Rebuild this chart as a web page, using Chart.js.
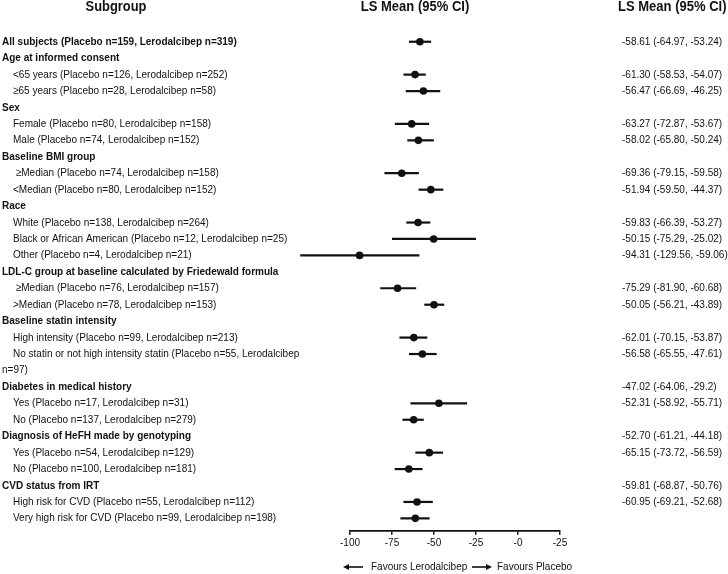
<!DOCTYPE html>
<html>
<head>
<meta charset="utf-8">
<script src="https://cdn.jsdelivr.net/npm/chart.js@4"></script>
<style>
    html, body { margin: 0; padding: 0; background: #fff; }
    canvas { display: block; }
</style>
</head>
<body>
<canvas id="forestChart" width="728" height="574"></canvas>
<script>
// rows of the table, top to bottom (row index = position on the y scale)
const subgroupLabels = [
    'All subjects (Placebo n=159, Lerodalcibep n=319)',
    'Age at informed consent',
    '<65 years (Placebo n=126, Lerodalcibep n=252)',
    '≥65 years (Placebo n=28, Lerodalcibep n=58)',
    'Sex',
    'Female (Placebo n=80, Lerodalcibep n=158)',
    'Male (Placebo n=74, Lerodalcibep n=152)',
    'Baseline BMI group',
    ' ≥Median (Placebo n=74, Lerodalcibep n=158)',
    '<Median (Placebo n=80, Lerodalcibep n=152)',
    'Race',
    'White (Placebo n=138, Lerodalcibep n=264)',
    'Black or African American (Placebo n=12, Lerodalcibep n=25)',
    'Other (Placebo n=4, Lerodalcibep n=21)',
    'LDL-C group at baseline calculated by Friedewald formula',
    ' ≥Median (Placebo n=76, Lerodalcibep n=157)',
    '>Median (Placebo n=78, Lerodalcibep n=153)',
    'Baseline statin intensity',
    'High intensity (Placebo n=99, Lerodalcibep n=213)',
    'No statin or not high intensity statin (Placebo n=55, Lerodalcibep',
    'n=97)',
    'Diabetes in medical history',
    'Yes (Placebo n=17, Lerodalcibep n=31)',
    'No (Placebo n=137, Lerodalcibep n=279)',
    'Diagnosis of HeFH made by genotyping',
    'Yes (Placebo n=54, Lerodalcibep n=129)',
    'No (Placebo n=100, Lerodalcibep n=181)',
    'CVD status from IRT',
    'High risk for CVD (Placebo n=55, Lerodalcibep n=112)',
    'Very high risk for CVD (Placebo n=99, Lerodalcibep n=198)'
];
const groupHeaderRows = [0, 1, 4, 7, 10, 14, 17, 21, 24, 27];
const continuationRows = [20];

// plotted estimates
const dataRows = [0, 2, 3, 5, 6, 8, 9, 11, 12, 13, 15, 16, 18, 19, 22, 23, 25, 26, 28, 29];
const lsMeans  = [-58.4, -61.3, -56.3, -63.3, -59.3, -69.2, -51.9, -59.5, -50.2, -94.3, -71.7, -50.0, -62.0, -56.9, -47.1, -62.1, -52.8, -65.0, -60.1, -61.1];
const ciLower  = [-64.9, -68.2, -66.8, -73.3, -65.9, -79.5, -59.2, -66.5, -75.0, -129.6, -82.0, -55.8, -70.6, -64.9, -64.0, -68.8, -61.1, -73.4, -68.2, -70.0];
const ciUpper  = [-51.7, -54.9, -46.3, -52.9, -50.1, -59.0, -44.4, -52.2, -25.0, -58.7, -60.6, -43.9, -54.0, -48.4, -30.3, -56.1, -44.6, -56.8, -50.7, -52.6];

// right hand column, as printed
const ciTextRows = [0, 2, 3, 5, 6, 8, 9, 11, 12, 13, 15, 16, 18, 19, 21, 22, 24, 25, 27, 28];
const ciTexts = [
    '-58.61 (-64.97, -53.24)',
    '-61.30 (-58.53, -54.07)',
    '-56.47 (-66.69, -46.25)',
    '-63.27 (-72.87, -53.67)',
    '-58.02 (-65.80, -50.24)',
    '-69.36 (-79.15, -59.58)',
    '-51.94 (-59.50, -44.37)',
    '-59.83 (-66.39, -53.27)',
    '-50.15 (-75.29, -25.02)',
    '-94.31 (-129.56, -59.06)',
    '-75.29 (-81.90, -60.68)',
    '-50.05 (-56.21, -43.89)',
    '-62.01 (-70.15, -53.87)',
    '-56.58 (-65.55, -47.61)',
    '-47.02 (-64.06, -29.2)',
    '-52.31 (-58.92, -55.71)',
    '-52.70 (-61.21, -44.18)',
    '-65.15 (-73.72, -56.59)',
    '-59.81 (-68.87, -50.76)',
    '-60.95 (-69.21, -52.68)'
];

const xTicks = [-100, -75, -50, -25, 0, 25];
const xTickLabels = ['-100', '-75', '-50', '-25', '-0', '-25'];

const INK = '#111';

function drawText(ctx, txt, x, y, font, align, sx) {
    ctx.save();
    ctx.font = font;
    ctx.fillStyle = INK;
    ctx.textBaseline = 'middle';
    ctx.textAlign = align;
    ctx.translate(x, y);
    ctx.scale(sx, 1);
    ctx.fillText(txt, 0, 0);
    ctx.restore();
}

function drawArrow(ctx, x0, x1, y) {
    // arrow head at x1
    const dir = x1 > x0 ? 1 : -1;
    ctx.save();
    ctx.strokeStyle = INK;
    ctx.fillStyle = INK;
    ctx.lineWidth = 1.6;
    ctx.beginPath();
    ctx.moveTo(x0, y);
    ctx.lineTo(x1 - dir * 4, y);
    ctx.stroke();
    ctx.beginPath();
    ctx.moveTo(x1, y);
    ctx.lineTo(x1 - dir * 6, y - 3);
    ctx.lineTo(x1 - dir * 6, y + 3);
    ctx.closePath();
    ctx.fill();
    ctx.restore();
}

const tablePlugin = {
    id: 'forestTable',
    afterDraw(chart) {
        const ctx = chart.ctx;
        const y = chart.scales.y;
        const bodyFont = '11px "Liberation Sans", Arial, sans-serif';
        const boldFont = 'bold 11px "Liberation Sans", Arial, sans-serif';
        const headFont = 'bold 14px "Liberation Sans", Arial, sans-serif';

        drawText(ctx, 'Subgroup', 116, 7, headFont, 'center', 0.92);
        drawText(ctx, 'LS Mean (95% CI)', 415, 7, headFont, 'center', 0.93);
        drawText(ctx, 'LS Mean (95% CI)', 618, 7, headFont, 'left', 0.93);

        subgroupLabels.forEach((txt, row) => {
            const isHead = groupHeaderRows.includes(row);
            const isCont = continuationRows.includes(row);
            const x = (isHead || isCont) ? 2 : 13;
            drawText(ctx, txt, x, y.getPixelForValue(row), isHead ? boldFont : bodyFont, 'left', 0.91);
        });

        ciTexts.forEach((txt, i) => {
            drawText(ctx, txt, 622, y.getPixelForValue(ciTextRows[i]), bodyFont, 'left', 0.91);
        });

        // direction legend under the axis
        const ly = 567;
        drawArrow(ctx, 363, 343, ly);
        drawText(ctx, 'Favours Lerodalcibep', 371, ly, bodyFont, 'left', 0.91);
        drawArrow(ctx, 472, 492, ly);
        drawText(ctx, 'Favours Placebo', 497, ly, bodyFont, 'left', 0.91);
    }
};

const ciSets = dataRows.map((row, i) => ({
    data: [{ x: ciLower[i], y: row }, { x: ciUpper[i], y: row }],
    showLine: true,
    borderColor: INK,
    borderWidth: 2.2,
    pointRadius: 0,
    clip: false,
    order: 1
}));

const pointSet = {
    data: dataRows.map((row, i) => ({ x: lsMeans[i], y: row })),
    pointRadius: 3.8,
    pointBackgroundColor: INK,
    pointBorderWidth: 0,
    showLine: false,
    clip: false,
    order: 0
};

new Chart(document.getElementById('forestChart'), {
    type: 'scatter',
    data: { datasets: [...ciSets, pointSet] },
    options: {
        responsive: false,
        animation: false,
        devicePixelRatio: 1,
        layout: { padding: { left: 350, right: 168, top: 25.3, bottom: 3.3 } },
        plugins: { legend: { display: false }, tooltip: { enabled: false } },
        scales: {
            x: {
                type: 'linear',
                min: -100,
                max: 25,
                afterFit: s => { s.height = 40; },
                afterBuildTicks: s => { s.ticks = xTicks.map(v => ({ value: v })); },
                border: { display: true, color: INK, width: 1.8 },
                grid: { drawOnChartArea: false, drawTicks: true, tickLength: 4, color: INK, lineWidth: 1.5 },
                ticks: {
                    padding: 3,
                    color: INK,
                    font: { family: '"Liberation Sans", Arial, sans-serif', size: 10 },
                    maxRotation: 0,
                    callback: v => xTickLabels[xTicks.indexOf(v)]
                }
            },
            y: {
                type: 'linear',
                reverse: true,
                min: -1,
                max: 29.75,
                display: false
            }
        }
    },
    plugins: [tablePlugin]
});
</script>
</body>
</html>
